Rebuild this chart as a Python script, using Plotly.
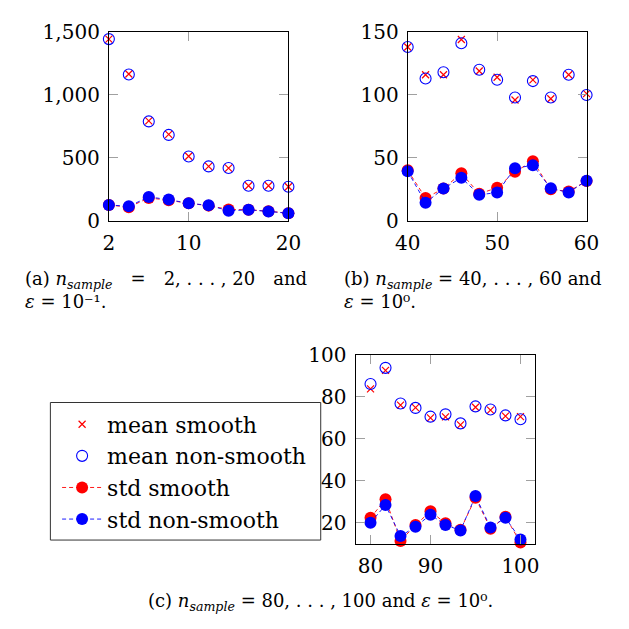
import plotly.graph_objects as go

# ---- data -------------------------------------------------------------
a_x = [2, 4, 6, 8, 10, 12, 14, 16, 18, 20]
a_mean_smooth = [1443, 1166, 794, 687, 514, 433, 420, 280, 280, 272]
a_mean_nonsmooth = [1443, 1162, 790, 683, 512, 433, 420, 280, 280, 272]
a_std_smooth = [127, 110, 183, 165, 140, 122, 92, 89, 78, 62]
a_std_nonsmooth = [127, 117, 191, 170, 140, 125, 81, 89, 76, 61]

b_x = [40, 42, 44, 46, 48, 50, 52, 54, 56, 58, 60]
b_mean_smooth = [138, 116, 116, 144, 119, 114, 96, 112, 97, 116, 101]
b_mean_nonsmooth = [138, 113, 118, 141, 120, 112, 98, 111, 98, 116, 100]
b_std_smooth = [40.2, 18.3, 25.7, 37.9, 21.6, 26.4, 39.1, 47.5, 25.2, 23.4, 31.8]
b_std_nonsmooth = [39.4, 14.5, 25.7, 34.3, 20.8, 22.6, 41.9, 44.2, 25.9, 22.6, 32.0]

c_x = [80, 82, 84, 86, 88, 90, 92, 94, 96, 98, 100]
c_mean_smooth = [83.9, 92.7, 76.1, 74.9, 70.0, 70.5, 66.7, 75.1, 73.7, 70.9, 70.6]
c_mean_nonsmooth = [86.2, 93.9, 76.9, 74.8, 70.6, 71.7, 67.4, 75.5, 74.0, 71.2, 69.4]
c_std_smooth = [22.3, 31.2, 11.3, 18.9, 25.4, 19.7, 16.6, 31.9, 17.1, 22.8, 10.5]
c_std_nonsmooth = [20.0, 28.4, 13.6, 18.0, 23.8, 18.9, 16.3, 32.7, 17.7, 22.3, 12.0]

a_xticks = [2, 10, 20]
a_yticks = [0, 500, 1000, 1500]
b_xticks = [40, 50, 60]
b_yticks = [0, 50, 100, 150]
c_xtick_pos = [80, 88, 100]
c_xtick_text = ["80", "90", "100"]
c_yticks = [20, 40, 60, 80, 100]

series_names = ["mean smooth", "mean non-smooth", "std smooth", "std non-smooth"]

# ---- styling ----------------------------------------------------------
FONT = "DejaVu Serif"
RED = "#ff0000"
BLUE = "#0000ff"
W = H = 629

fig = go.Figure()


def add_panel(x, ms, mn, ss, sn, xa, ya, legend):
    fig.add_trace(go.Scatter(
        x=x, y=ms, mode="markers", name=series_names[0], xaxis=xa, yaxis=ya,
        marker=dict(symbol="x-thin", size=7, line=dict(color=RED, width=1.2), color=RED),
        showlegend=legend, cliponaxis=False, legendgroup="g0"))
    fig.add_trace(go.Scatter(
        x=x, y=mn, mode="markers", name=series_names[1], xaxis=xa, yaxis=ya,
        marker=dict(symbol="circle-open", size=11, line=dict(color=BLUE, width=1.1), color=BLUE),
        showlegend=legend, cliponaxis=False, legendgroup="g1"))
    fig.add_trace(go.Scatter(
        x=x, y=ss, mode="lines+markers", name=series_names[2], xaxis=xa, yaxis=ya,
        line=dict(color=RED, width=0.9, dash="4px,3px"),
        marker=dict(symbol="circle", size=12, color=RED),
        showlegend=legend, cliponaxis=False, legendgroup="g2"))
    fig.add_trace(go.Scatter(
        x=x, y=sn, mode="lines+markers", name=series_names[3], xaxis=xa, yaxis=ya,
        line=dict(color=BLUE, width=0.9, dash="4px,3px"),
        marker=dict(symbol="circle", size=12, color=BLUE),
        showlegend=legend, cliponaxis=False, legendgroup="g3"))


add_panel(a_x, a_mean_smooth, a_mean_nonsmooth, a_std_smooth, a_std_nonsmooth, "x", "y", False)
add_panel(b_x, b_mean_smooth, b_mean_nonsmooth, b_std_smooth, b_std_nonsmooth, "x2", "y2", False)
add_panel(c_x, c_mean_smooth, c_mean_nonsmooth, c_std_smooth, c_std_nonsmooth, "x3", "y3", True)

axis_common = dict(
    showline=True, linecolor="black", linewidth=1, mirror="ticks",
    ticks="inside", ticklen=9, tickwidth=1, tickcolor="#a0a0a0",
    showgrid=False, zeroline=False, ticklabelstandoff=4,
    tickfont=dict(family=FONT, size=20, color="black"),
)


def px_x(p):
    return p / W


def px_y(p):
    return 1 - p / H


fig.update_layout(
    width=W, height=H,
    margin=dict(l=0, r=0, t=0, b=0),
    paper_bgcolor="white", plot_bgcolor="white",
    font=dict(family=FONT, color="black"),
    xaxis=dict(axis_common, domain=[px_x(100), px_x(287.3)], range=[2, 20],
               tickvals=a_xticks, anchor="y"),
    yaxis=dict(axis_common, domain=[px_y(217.3), px_y(20.7)], range=[0, 1500],
               tickvals=a_yticks, tickformat=",", anchor="x"),
    xaxis2=dict(axis_common, domain=[px_x(411.7), px_x(598.3)], range=[40, 60],
                tickvals=b_xticks, anchor="y2"),
    yaxis2=dict(axis_common, domain=[px_y(217.3), px_y(20.7)], range=[0, 150],
                tickvals=b_yticks, anchor="x2"),
    xaxis3=dict(axis_common, domain=[px_x(357.3), px_x(545)], range=[78, 102],
                tickvals=c_xtick_pos, ticktext=c_xtick_text, anchor="y3"),
    yaxis3=dict(axis_common, domain=[px_y(552.7), px_y(356.7)], range=[10, 100],
                tickvals=c_yticks, anchor="x3"),
    legend=dict(
        x=px_x(46), y=px_y(407), xanchor="left", yanchor="top",
        borderwidth=0, bgcolor="rgba(0,0,0,0)",
        font=dict(family=FONT, size=22, color="black"),
        tracegroupgap=6.5, traceorder="normal", itemwidth=40,
    ),
)

# legend frame
fig.add_shape(type="rect", xref="paper", yref="paper",
              x0=px_x(39), x1=px_x(321), y0=px_y(549), y1=px_y(406),
              line=dict(color="#333333", width=1), fillcolor="rgba(0,0,0,0)", layer="above")

# sub-captions
cap_font = dict(family=FONT, size=18, color="black")
sp = "\u2002"
captions = [
    (10, 289.5, f"(a) <i>n</i><sub><i>sample</i></sub>{sp}{sp}={sp}{sp}2, . . . , 20{sp}{sp}and"
                "<br><i>ε</i> = 10⁻¹.", "left"),
    (343, 289.5, "(b) <i>n</i><sub><i>sample</i></sub> = 40, . . . , 60 and"
                 "<br><i>ε</i> = 10⁰.", "left"),
    (321, 613, "(c) <i>n</i><sub><i>sample</i></sub> = 80, . . . , 100 and <i>ε</i> = 10⁰.", "center"),
]
for cx, cy, txt, anc in captions:
    fig.add_annotation(x=px_x(cx), y=px_y(cy), xref="paper", yref="paper",
                       text=txt, showarrow=False, xanchor=anc, yanchor="middle",
                       align="left", font=cap_font)

fig.write_html("out.html")
